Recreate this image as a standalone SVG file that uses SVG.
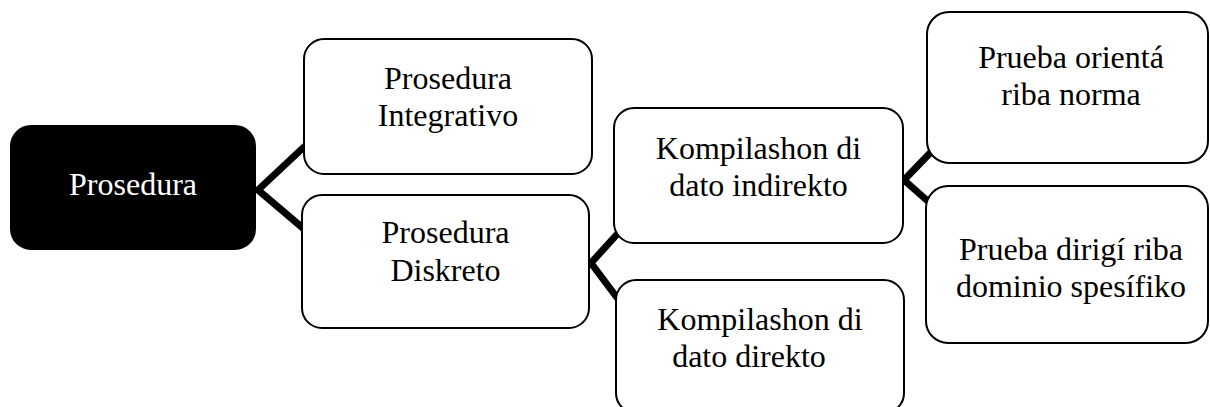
<svg xmlns="http://www.w3.org/2000/svg" width="1210" height="407" viewBox="0 0 1210 407">
<style>
.box{fill:#fff;stroke:#000;stroke-width:2}
.dark{fill:#000;stroke:#000;stroke-width:2}
.t{font-family:"Liberation Serif","Times New Roman",serif;font-size:32px;text-anchor:middle;fill:#000}
.tw{fill:#fff}
.conn{fill:none;stroke:#000;stroke-width:7;stroke-linejoin:miter}
</style>
<rect width="1210" height="407" fill="#fff"/>
<g id="connectors">
<path class="conn" d="M305,146 L258,190 L304,229"/>
<path class="conn" d="M620,231 L591,263 L618,299"/>
<path class="conn" d="M932,151 L904,180 L930,203"/>
</g>
<g id="n-prosedura">
<rect class="dark" x="11" y="126" width="244" height="123" rx="20"/>
<text class="t tw" x="133" y="195">Prosedura</text>
</g>
<g id="n-integrativo">
<rect class="box" x="304" y="39" width="288" height="135" rx="20"/>
<text class="t" x="448" y="89">Prosedura</text>
<text class="t" x="448" y="126">Integrativo</text>
</g>
<g id="n-diskreto">
<rect class="box" x="302" y="195" width="287" height="133" rx="20"/>
<text class="t" x="445.5" y="243">Prosedura</text>
<text class="t" x="445.5" y="281">Diskreto</text>
</g>
<g id="n-indirekto">
<rect class="box" x="614" y="108" width="289" height="135" rx="20"/>
<text class="t" x="758.5" y="159">Kompilashon di</text>
<text class="t" x="758.5" y="196">dato indirekto</text>
</g>
<g id="n-direkto">
<rect class="box" x="616" y="280" width="288" height="133" rx="20"/>
<text class="t" x="760" y="330">Kompilashon di</text>
<text class="t" x="749" y="367">dato direkto</text>
</g>
<g id="n-norma">
<rect class="box" x="927" y="12" width="281" height="151" rx="22"/>
<text class="t" x="1071" y="68">Prueba orientá</text>
<text class="t" x="1071" y="105">riba norma</text>
</g>
<g id="n-dominio">
<rect class="box" x="926" y="186" width="282" height="157" rx="22"/>
<text class="t" x="1071" y="260">Prueba dirigí riba</text>
<text class="t" x="1071" y="297">dominio spesífiko</text>
</g>
</svg>
